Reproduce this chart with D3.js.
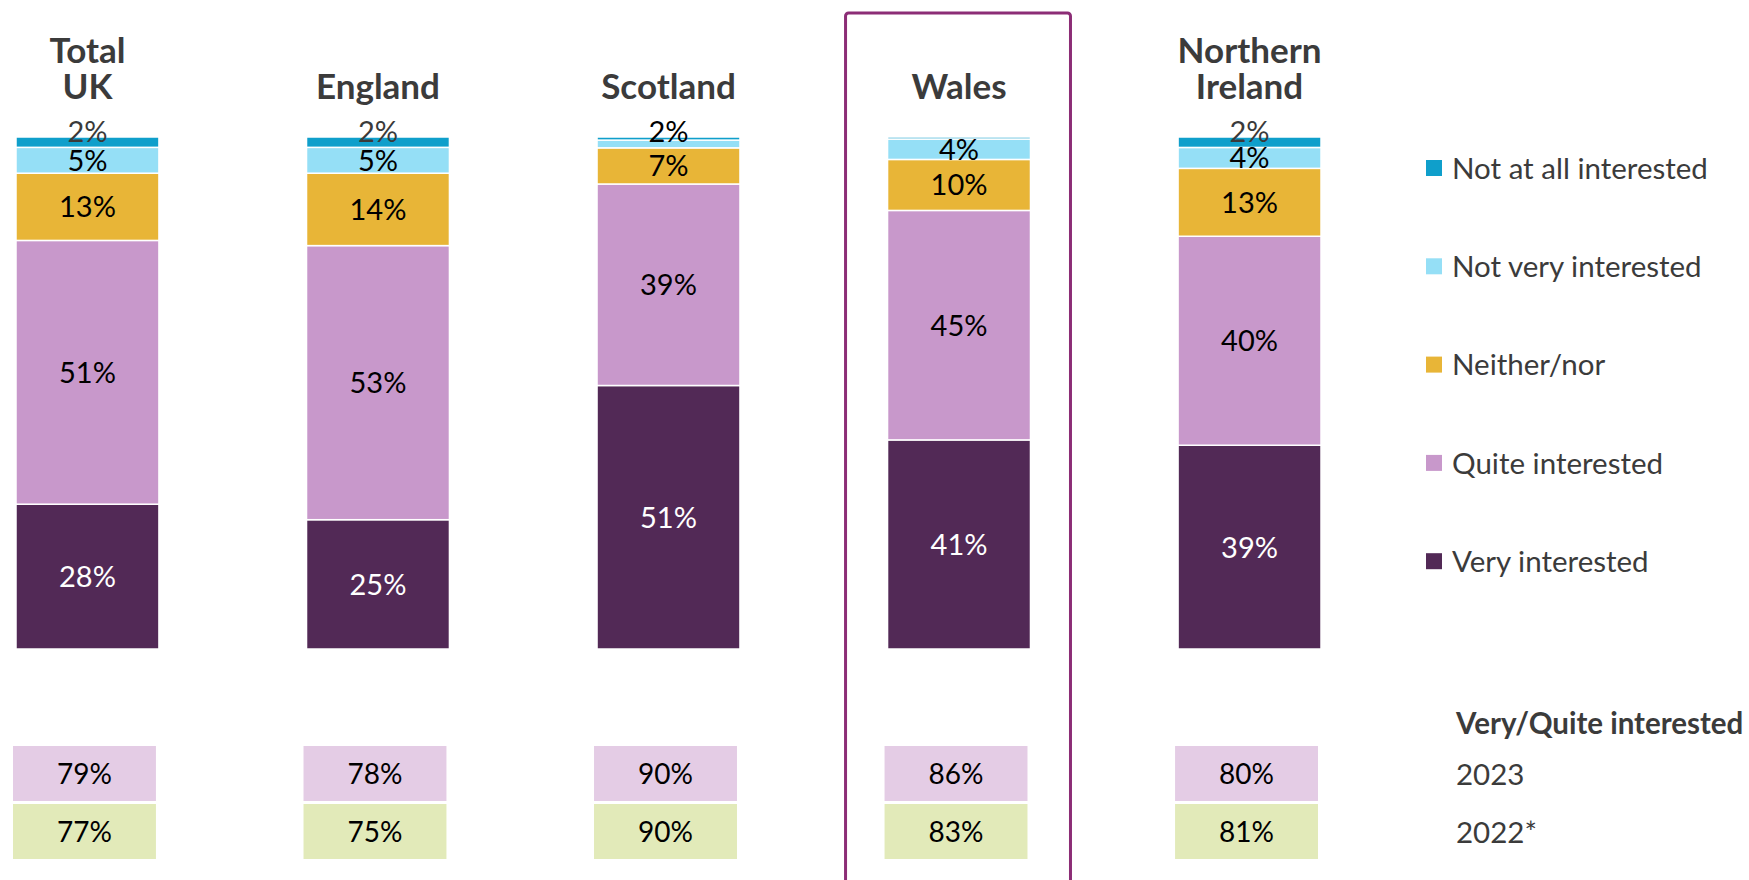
<!DOCTYPE html>
<html>
<head>
<meta charset="utf-8">
<script src="https://cdn.jsdelivr.net/npm/d3@7"></script>
<style>
  html, body { margin: 0; padding: 0; background: #fff; }
  svg { display: block; font-family: Lato, "Open Sans", sans-serif; }
</style>
</head>
<body>
<div id="chart"></div>
<script>
// ---- data ----
const regions = ["Total UK", "England", "Scotland", "Wales", "Northern Ireland"];
const titleLines = [["Total", "UK"], ["England"], ["Scotland"], ["Wales"], ["Northern", "Ireland"]];

const levels = ["Very interested", "Quite interested", "Neither/nor", "Not very interested", "Not at all interested"];
const veryInterested = [28, 25, 51, 41, 39];
const quiteInterested = [51, 53, 39, 45, 40];
const neitherNor = [13, 14, 7, 10, 13];
const notVeryInterested = [5, 5, 1.5, 4, 4];
const notAtAllInterested = [2, 2, 0.6, 0.4, 2];

const summaryTitle = "Very/Quite interested";
const summaryYears = ["2023", "2022*"];
const combined2023 = [79, 78, 90, 86, 80];
const combined2022 = [77, 75, 90, 83, 81];

const highlighted = "Wales";

// ---- setup ----
const width = 1749, height = 880;

const svg = d3.select("#chart").append("svg")
    .attr("width", width)
    .attr("height", height);

const table = regions.map((r, i) => ({
    region: r,
    "Very interested": veryInterested[i],
    "Quite interested": quiteInterested[i],
    "Neither/nor": neitherNor[i],
    "Not very interested": notVeryInterested[i],
    "Not at all interested": notAtAllInterested[i]
}));

const series = d3.stack()
    .keys(levels)
    .offset(d3.stackOffsetExpand)(table);

// ---- scales ----
const x = d3.scaleBand()
    .domain(regions)
    .range([16, 1321])
    .paddingInner(0.508)
    .paddingOuter(0);

const y = d3.scaleLinear()
    .domain([0, 1])
    .range([649, 137]);

const color = d3.scaleOrdinal()
    .domain(levels)
    .range(["#522956", "#c898cb", "#e8b537", "#95dff6", "#0f9fcb"]);

const labelColor = d3.scaleOrdinal()
    .domain(levels)
    .range(["#ffffff", "#000000", "#000000", "#000000", "#3a3a3a"]);

// ---- highlight frame ----
const hx = x(highlighted);
svg.append("rect")
    .attr("x", hx - 42)
    .attr("y", 13)
    .attr("width", x.bandwidth() + 82)
    .attr("height", 900)
    .attr("rx", 3)
    .attr("fill", "none")
    .attr("stroke", "#8c2d76")
    .attr("stroke-width", 3);

// ---- stacked bars ----
const layer = svg.append("g").selectAll("g")
    .data(series)
    .join("g")
    .attr("fill", d => color(d.key));

layer.selectAll("rect")
    .data(d => d.map(p => ({ key: d.key, p })))
    .join("rect")
    .attr("x", d => x(d.p.data.region))
    .attr("y", d => y(d.p[1]))
    .attr("width", x.bandwidth())
    .attr("height", d => y(d.p[0]) - y(d.p[1]))
    .attr("stroke", "#fff")
    .attr("stroke-width", 1.5);

// ---- segment labels ----
// tiny top segments get their label pushed up above the bar top
const labels = [];
series.forEach(s => {
    s.forEach(p => {
        const v = p.data[s.key];
        if (v < 1) return;
        const h = y(p[0]) - y(p[1]);
        const cy = h < 12 ? y(1) - 5 : (y(p[0]) + y(p[1])) / 2;
        labels.push({ key: s.key, region: p.data.region, v, cy });
    });
});

svg.append("g").selectAll("text")
    .data(labels)
    .join("text")
    .attr("x", d => x(d.region) + x.bandwidth() / 2)
    .attr("y", d => d.cy)
    .attr("dy", "0.36em")
    .attr("text-anchor", "middle")
    .attr("font-size", 29)
    .attr("fill", d => labelColor(d.key))
    .text(d => Math.round(d.v) + "%");

// ---- column titles ----
const titles = svg.append("g").selectAll("text")
    .data(regions)
    .join("text")
    .attr("text-anchor", "middle")
    .attr("font-size", 35)
    .attr("font-weight", "bold")
    .attr("fill", "#3b3b3b");

titles.each(function (r, i) {
    const lines = titleLines[i];
    const t = d3.select(this);
    lines.forEach((line, j) => {
        t.append("tspan")
            .attr("x", x(r) + x.bandwidth() / 2)
            .attr("y", 99 - (lines.length - 1 - j) * 36)
            .text(line);
    });
});

// ---- summary boxes ----
const boxRows = [
    { year: summaryYears[0], values: combined2023, fill: "#e4cce5", top: 746 },
    { year: summaryYears[1], values: combined2022, fill: "#e2eab9", top: 804 }
];

boxRows.forEach(row => {
    const g = svg.append("g");
    g.selectAll("rect")
        .data(regions)
        .join("rect")
        .attr("x", r => x(r) - 3)
        .attr("y", row.top)
        .attr("width", x.bandwidth())
        .attr("height", 55)
        .attr("fill", row.fill);

    g.selectAll("text")
        .data(regions)
        .join("text")
        .attr("x", r => x(r) - 3 + x.bandwidth() / 2)
        .attr("y", row.top + 27.5)
        .attr("dy", "0.36em")
        .attr("text-anchor", "middle")
        .attr("font-size", 28)
        .attr("fill", "#000")
        .text((r, i) => row.values[i] + "%");

    svg.append("text")
        .attr("x", 1456)
        .attr("y", row.top + 28.5)
        .attr("dy", "0.36em")
        .attr("font-size", 29.5)
        .attr("fill", "#3b3b3b")
        .text(row.year);
});

svg.append("text")
    .attr("x", 1456)
    .attr("y", 723)
    .attr("dy", "0.36em")
    .attr("font-size", 29.5)
    .attr("font-weight", "bold")
    .attr("fill", "#3b3b3b")
    .text(summaryTitle);

// ---- legend ----
const legendOrder = levels.slice().reverse();
const legend = svg.append("g").selectAll("g")
    .data(legendOrder)
    .join("g")
    .attr("transform", (d, i) => `translate(1426, ${168 + i * 98.3})`);

legend.append("rect")
    .attr("y", -8)
    .attr("width", 16)
    .attr("height", 16)
    .attr("fill", d => color(d));

legend.append("text")
    .attr("x", 26)
    .attr("dy", "0.36em")
    .attr("font-size", 29.5)
    .attr("fill", "#3b3b3b")
    .text(d => d);
</script>
</body>
</html>
